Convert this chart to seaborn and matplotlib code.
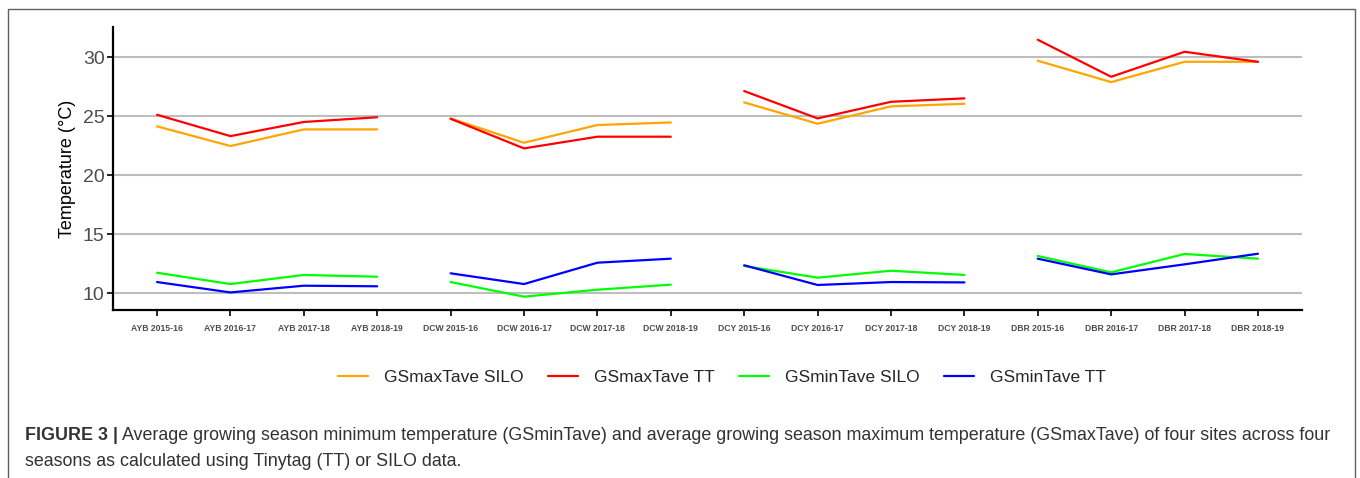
import numpy as np
import pandas as pd
import seaborn as sns
import matplotlib.pyplot as plt
from matplotlib.patches import Rectangle

sites = ["AYB", "DCW", "DCY", "DBR"]
seasons = ["2015-16", "2016-17", "2017-18", "2018-19"]
series_names = ["GSmaxTave SILO", "GSmaxTave TT", "GSminTave SILO", "GSminTave TT"]
series_colors = ["#FFA500", "#FF0000", "#00FF00", "#0000FF"]

gsmax_silo = [24.13, 22.46, 23.87, 23.87, 24.80, 22.74, 24.24, 24.46,
              26.16, 24.35, 25.82, 26.04, 29.69, 27.88, 29.60, 29.60]
gsmax_tt = [25.11, 23.30, 24.50, 24.90, 24.77, 22.26, 23.25, 23.25,
            27.12, 24.80, 26.21, 26.50, 31.47, 28.33, 30.45, 29.60]
gsmin_silo = [11.72, 10.76, 11.53, 11.38, 10.93, 9.69, 10.28, 10.71,
              12.29, 11.30, 11.89, 11.53, 13.14, 11.75, 13.31, 12.91]
gsmin_tt = [10.93, 10.05, 10.62, 10.57, 11.67, 10.76, 12.57, 12.91,
            12.35, 10.68, 10.93, 10.90, 12.91, 11.58, 12.43, 13.33]

y_ticks = [10, 15, 20, 25, 30]

caption_bold = "FIGURE 3 |"
caption_line1 = (" Average growing season minimum temperature (GSminTave) and average "
                 "growing season maximum temperature (GSmaxTave) of four sites across four")
caption_line2 = "seasons as calculated using Tinytag (TT) or SILO data."


def build_dataset():
    rows = []
    for name, values in zip(series_names, [gsmax_silo, gsmax_tt, gsmin_silo, gsmin_tt]):
        i = 0
        for site in sites:
            for season in seasons:
                rows.append({"site": site, "label": site + " " + season,
                             "series": name, "value": values[i]})
                i += 1
    return pd.DataFrame(rows)


def main():
    df = build_dataset()
    sns.set_style("white")
    plt.rcParams["font.family"] = ["Liberation Sans", "DejaVu Sans"]

    fig = plt.figure(figsize=(13.6, 4.78), dpi=100)
    ax = fig.add_axes([113 / 1360, 1 - 310 / 478, 1189 / 1360, 283 / 478])

    for y in y_ticks:
        ax.axhline(y, color="#BEBEBE", lw=1.5, zorder=0)

    sns.lineplot(data=df, x="label", y="value", hue="series", units="site",
                 estimator=None, sort=False, palette=series_colors,
                 hue_order=series_names, lw=1.6, ax=ax)

    ax.set_xlim(-0.6, 15.6)
    ax.set_ylim(8.56, 32.55)
    ax.set_yticks(y_ticks)
    ax.set_xlabel("")
    ax.set_ylabel("Temperature (°C)", fontsize=13, color="black", labelpad=5)
    for side in ["top", "right"]:
        ax.spines[side].set_visible(False)
    for side in ["left", "bottom"]:
        ax.spines[side].set_color("black")
        ax.spines[side].set_linewidth(1.6)
    ax.tick_params(axis="both", direction="out", length=4, width=1.2,
                   color="black", left=True, bottom=True)
    ax.tick_params(axis="y", labelsize=14, labelcolor="#4D4D4D", pad=2)
    ax.tick_params(axis="x", labelsize=6.2, labelcolor="#4D4D4D", pad=6)
    for lbl in ax.get_xticklabels():
        lbl.set_fontweight("bold")

    sns.move_legend(ax, "center", bbox_to_anchor=(0.512, -0.24), ncol=4,
                    frameon=False, title=None, fontsize=12.5, handlelength=1.75,
                    handletextpad=0.9, columnspacing=1.4)

    # outer frame of the figure panel
    fig.patches.append(Rectangle((8 / 1360, -0.1), 1347 / 1360, 1.1 - 9 / 478,
                                 transform=fig.transFigure, fill=False,
                                 edgecolor="#606060", lw=1.0))

    # caption
    cap_color = "#333333"
    cap_size = 12.9
    bold = fig.text(25 / 1360, 1 - 440 / 478, caption_bold, fontsize=cap_size,
                    fontweight="bold", color=cap_color, va="baseline")
    fig.canvas.draw()
    bb = bold.get_window_extent()
    fig.text(bb.x1 / fig.bbox.width, 1 - 440 / 478, caption_line1,
             fontsize=cap_size, color=cap_color, va="baseline")
    fig.text(25 / 1360, 1 - 466 / 478, caption_line2, fontsize=cap_size,
             color=cap_color, va="baseline")

    fig.savefig("out.png", dpi=100)


if __name__ == "__main__":
    main()
